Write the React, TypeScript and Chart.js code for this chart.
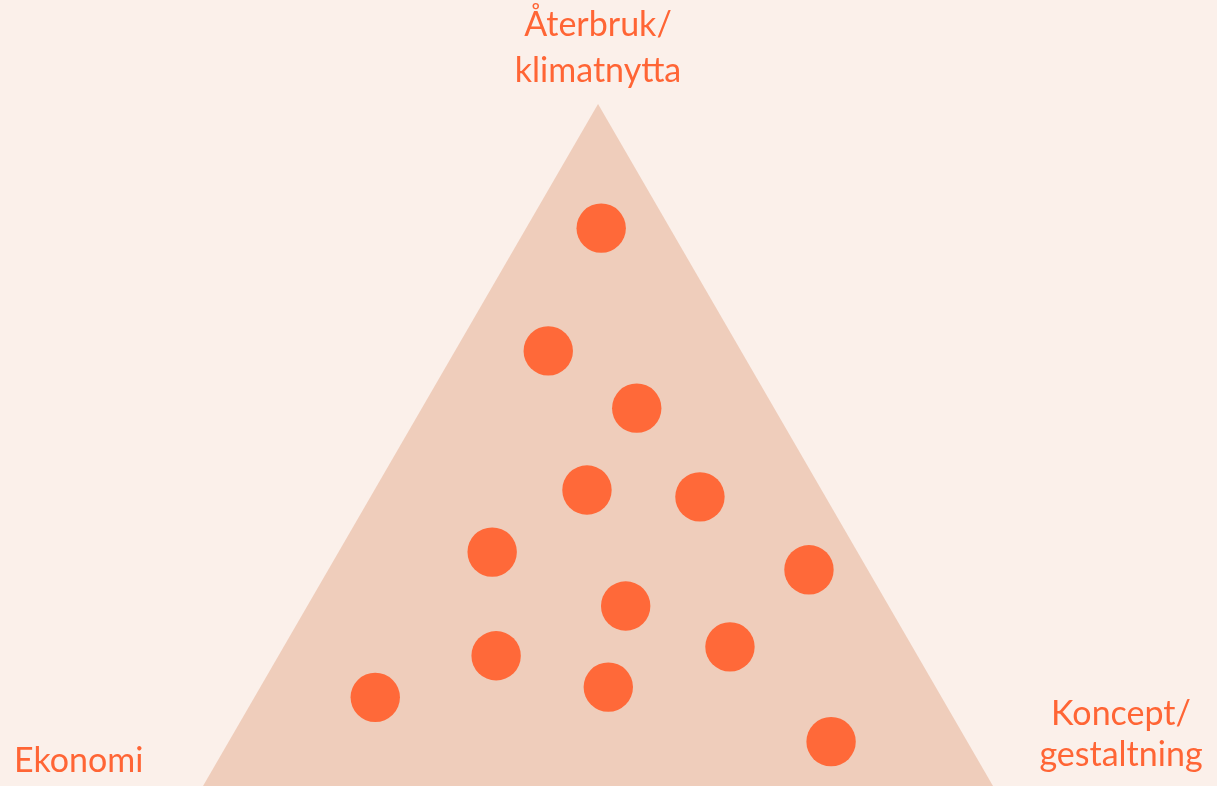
import React, { useEffect, useRef } from "react";
import { Chart, registerables } from "chart.js";

Chart.register(...registerables);

// Triangle vertices (data space: base from 0 to 100, apex height 100)
const triangleX = [0, 50, 100];
const triangleY = [0, 100, 0];

// Dot positions
const dotX = [50.4, 43.7, 54.9, 48.6, 62.9, 36.6, 76.7, 53.5, 37.1, 66.7, 51.3, 21.8, 79.5];
const dotY = [81.8, 63.8, 55.4, 43.4, 42.4, 34.3, 31.7, 26.4, 19.1, 20.4, 14.5, 13.0, 6.5];

// Corner labels
const topLabel = ["Återbruk/", "klimatnytta"];
const leftLabel = ["Ekonomi"];
const rightLabel = ["Koncept/", "gestaltning"];

const BG = "#FBF0EA";
const TRI = "#EFCDBB";
const DOT = "#FF6939";
const TXT = "#FF6535";
const FONT = "Lato, 'Open Sans', sans-serif";

const labelPlugin = {
  id: "cornerLabels",
  afterDraw(chart: any) {
    const ctx = chart.ctx;
    const xs = chart.scales.x;
    const ys = chart.scales.y;
    const apexX = xs.getPixelForValue(triangleX[1]);
    const apexY = ys.getPixelForValue(triangleY[1]);
    ctx.save();
    ctx.fillStyle = TXT;
    ctx.font = `34px ${FONT}`;
    ctx.textBaseline = "alphabetic";
    ctx.textAlign = "center";
    topLabel.forEach((t, i) => ctx.fillText(t, apexX, apexY - 68 + i * 46));
    ctx.textAlign = "left";
    leftLabel.forEach((t, i) => ctx.fillText(t, 14, chart.height - 14 + i * 46));
    ctx.textAlign = "center";
    rightLabel.forEach((t, i) => ctx.fillText(t, chart.width - 96, chart.height - 61 + i * 41));
    ctx.restore();
  },
};

export default function App() {
  const ref = useRef<HTMLCanvasElement>(null);
  useEffect(() => {
    document.body.style.margin = "0";
    const chart = new Chart(ref.current!, {
      type: "scatter",
      data: {
        datasets: [
          {
            label: "dots",
            data: dotX.map((x, i) => ({ x, y: dotY[i] })),
            pointRadius: 24.7,
            pointHoverRadius: 24.7,
            pointBackgroundColor: DOT,
            pointBorderWidth: 0,
            showLine: false,
          } as any,
          {
            label: "triangle",
            data: triangleX.map((x, i) => ({ x, y: triangleY[i] })),
            showLine: true,
            fill: "origin",
            backgroundColor: TRI,
            borderWidth: 0,
            borderColor: TRI,
            pointRadius: 0,
            tension: 0,
          } as any,
        ],
      },
      options: {
        animation: false,
        responsive: false,
        maintainAspectRatio: false,
        layout: { padding: 0, autoPadding: false },
        plugins: { legend: { display: false }, tooltip: { enabled: false } },
        scales: {
          x: { type: "linear", min: -25.7, max: 128.35, display: false },
          y: { type: "linear", min: 0, max: 115.25, display: false },
        },
      },
      plugins: [labelPlugin],
    });
    return () => chart.destroy();
  }, []);
  return (
    <div style={{ width: 1217, height: 786, background: BG }}>
      <canvas ref={ref} width={1217} height={786} style={{ display: "block" }} />
    </div>
  );
}
